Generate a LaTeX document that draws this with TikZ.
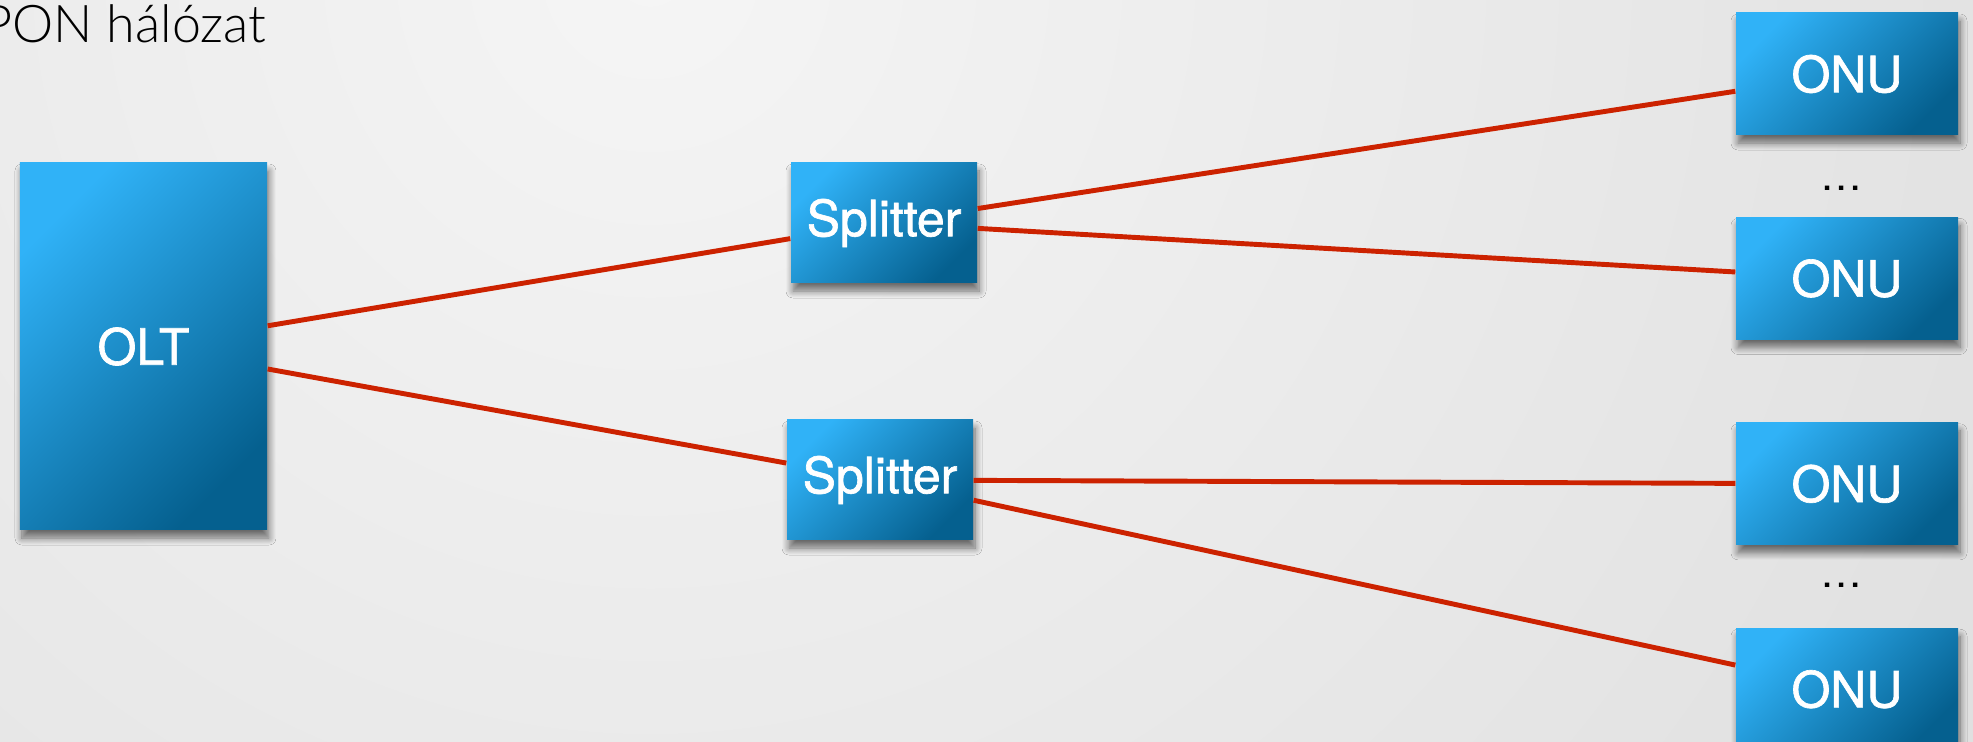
\documentclass[tikz,border=0pt]{standalone}
\usepackage{fontspec}
\setmainfont{TeX Gyre Heros}
\newfontfamily\titlefont{Lato Light}
\newfontfamily\boxfont{TeX Gyre Heros}[FakeBold=1.3]
\usepackage{xcolor}
\usepackage{tikz}
\usetikzlibrary{positioning,shadows.blur}

\definecolor{bglight}{HTML}{F5F5F5}
\definecolor{bgdark}{HTML}{C9C9C9}
\definecolor{boxlight}{HTML}{30B2F7}
\definecolor{boxdark}{HTML}{05608F}
\definecolor{fiberred}{HTML}{CC2200}

\pgfdeclareradialshading{bgglow}{\pgfpoint{0bp}{0bp}}{color(0bp)=(bglight); color(50bp)=(bgdark)}

\begin{document}
\begin{tikzpicture}[
    box/.style={rectangle, inner sep=0pt, text=white,
        top color=boxlight, bottom color=boxdark, shading angle=45,
        blur shadow={shadow xshift=0.2mm, shadow yshift=-0.8mm, shadow blur radius=0.7mm, shadow blur steps=8, shadow opacity=55},
        font=\boxfont\fontsize{14.2pt}{17pt}\selectfont},
    splitbox/.style={minimum width=1.86cm, minimum height=1.2cm},
    onubox/.style={minimum width=2.22cm, minimum height=1.22cm},
    more/.style={inner sep=0pt, font=\fontsize{12pt}{14pt}\selectfont},
    fiber/.style={draw=fiberred, line width=1.4pt}
]
    % canvas
    \useasboundingbox (0,0) rectangle (19.73,-7.42);
    \clip (0,0) rectangle (19.73,-7.42);
    \shade[shading=bgglow] (6.5,0.3) circle (16);

    \node[anchor=base east, inner sep=0pt, font=\titlefont\fontsize{14.8pt}{17pt}\selectfont] (title) at (2.67,-0.43) {PON hálózat};

    \node[box, minimum width=2.47cm, minimum height=3.67cm] (olt) at (1.435,-3.465) {OLT};
    \node[box, splitbox] (split1) at (8.84,-2.23) {Splitter};
    \node[box, splitbox] (split2) at (8.80,-4.80) {Splitter};

    \node[box, onubox] (onu1) at (18.47,-0.74) {ONU};
    \node[box, onubox, below=0.81cm of onu1] (onu2) {ONU};
    \node[box, onubox, below=0.82cm of onu2] (onu3) {ONU};
    \node[box, onubox, below=0.82cm of onu3] (onu4) {ONU};

    \node[more] (more1) at (18.42,-1.88) {\textellipsis};
    \node[more] (more2) at (18.42,-5.85) {\textellipsis};

    \draw[fiber] (olt) -- (split1);
    \draw[fiber] (olt) -- (split2);
    \draw[fiber] (split1) -- (onu1);
    \draw[fiber] (split1) -- (onu2);
    \draw[fiber] (split2) -- (onu3);
    \draw[fiber] (split2) -- (onu4);
\end{tikzpicture}
\end{document}
